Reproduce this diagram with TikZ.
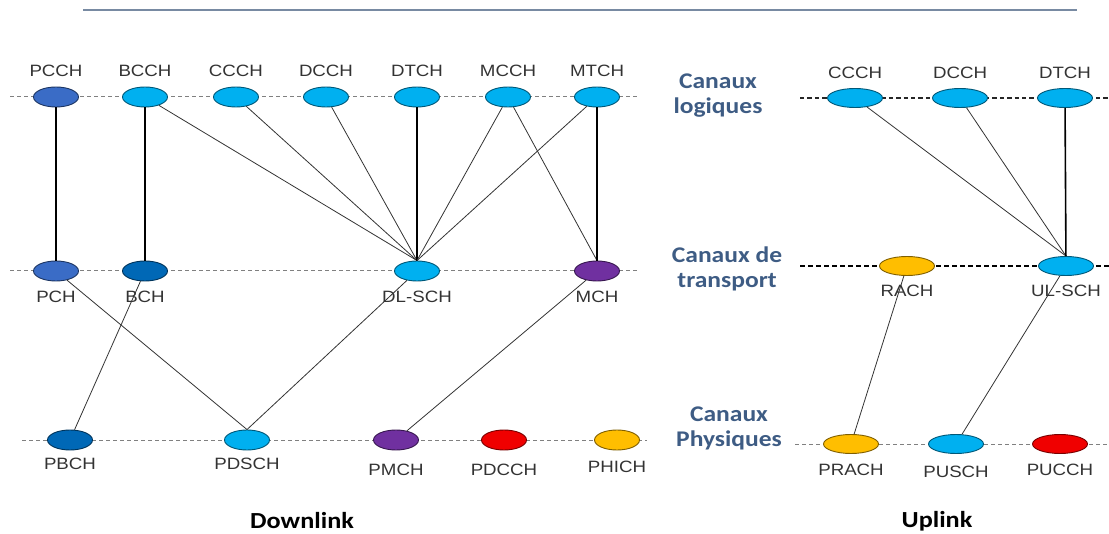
\documentclass[tikz,border=0pt]{standalone}
\usepackage{fontspec}
\setmainfont{Liberation Sans}
\newfontfamily\chanfont[FakeStretch=1.14]{Liberation Sans}
\newfontfamily\headfont[FakeStretch=1.14]{Carlito}
\usetikzlibrary{shapes.geometric}

\definecolor{skyblue}{RGB}{0,176,240}
\definecolor{midblue}{RGB}{58,108,198}
\definecolor{deepblue}{RGB}{0,104,182}
\definecolor{violet}{RGB}{112,48,160}
\definecolor{chred}{RGB}{240,0,0}
\definecolor{amber}{RGB}{255,190,0}
\definecolor{headblue}{RGB}{62,92,132}
\definecolor{rulegray}{RGB}{120,138,162}

\tikzset{
  chan/.style={ellipse, inner sep=0pt, minimum width=22.5pt, minimum height=10pt,
               fill=#1, draw=#1!50!black, line width=0.45pt},
  upchan/.style={chan=#1, minimum width=27.5pt, minimum height=9.5pt},
  lbl/.style={font=\chanfont\fontsize{8.2}{9}\selectfont, text=black!80, inner sep=0pt},
  head/.style={font=\headfont\bfseries\fontsize{11.2}{12.5}\selectfont, text=headblue,
               align=center, inner sep=0pt},
  sidehead/.style={font=\headfont\bfseries\fontsize{11.5}{13}\selectfont, text=black, inner sep=0pt},
  row/.style={dash pattern=on 2pt off 1.5pt, line width=0.5pt, draw=black!50},
  darkrow/.style={dash pattern=on 2.2pt off 1.5pt, line width=0.55pt, draw=black!85},
  heavyrow/.style={dash pattern=on 2.5pt off 1.5pt, line width=0.8pt, draw=black},
  link/.style={line width=0.4pt, draw=black!80},
  tie/.style={line width=0.8pt, draw=black},
  heavytie/.style={line width=1.2pt, draw=black},
}

\begin{document}
\begin{tikzpicture}[x=0.5pt, y=-0.5pt]
\useasboundingbox (0,0) rectangle (1109,534);

% top rule
\coordinate (ruleL) at (83,10);
\coordinate (ruleR) at (1077,10);
\draw[rulegray, line width=1pt] (ruleL) -- (ruleR);

% dashed rows, downlink
\coordinate (dlL1) at (10,97);   \coordinate (dlR1) at (640,97);
\coordinate (dlL2) at (10,271);  \coordinate (dlR2) at (640,271);
\coordinate (dlL3) at (22,440);  \coordinate (dlR3) at (647,440);
\draw[row] (dlL1) -- (dlR1);
\draw[row] (dlL2) -- (dlR2);
\draw[row] (dlL3) -- (dlR3);

% dashed rows, uplink
\coordinate (ulL1) at (800,98);  \coordinate (ulR1) at (1109,98);
\coordinate (ulL2) at (800,266); \coordinate (ulR2) at (1109,266);
\coordinate (ulL3) at (795,444); \coordinate (ulR3) at (1109,444);
\draw[darkrow] (ulL1) -- (ulR1);
\draw[heavyrow] (ulL2) -- (ulR2);
\draw[row] (ulL3) -- (ulR3);

% downlink logical channels
\node[chan=midblue] (pcch) at (56,97) {};
\node[chan=skyblue] (bcch) at (145,97) {};
\node[chan=skyblue] (ccch) at (236,97) {};
\node[chan=skyblue] (dcch) at (326,97) {};
\node[chan=skyblue] (dtch) at (417,97) {};
\node[chan=skyblue] (mcch) at (508,97) {};
\node[chan=skyblue] (mtch) at (597,97) {};
\node[lbl] (pcchL) at (56,71) {PCCH};
\node[lbl] (bcchL) at (145,71) {BCCH};
\node[lbl] (ccchL) at (236,71) {CCCH};
\node[lbl] (dcchL) at (326,71) {DCCH};
\node[lbl] (dtchL) at (417,71) {DTCH};
\node[lbl] (mcchL) at (508,71) {MCCH};
\node[lbl] (mtchL) at (597,71) {MTCH};

% downlink transport channels
\node[chan=midblue] (pch) at (56,271) {};
\node[chan=deepblue] (bch) at (145,271) {};
\node[chan=skyblue] (dlsch) at (417,271) {};
\node[chan=violet] (mch) at (597,271) {};
\node[lbl] (pchL) at (56,297) {PCH};
\node[lbl] (bchL) at (145,297) {BCH};
\node[lbl] (dlschL) at (417,297) {DL-SCH};
\node[lbl] (mchL) at (597,297) {MCH};

% downlink physical channels
\node[chan=deepblue] (pbch) at (70,440) {};
\node[chan=skyblue] (pdsch) at (247,440) {};
\node[chan=violet] (pmch) at (396,440) {};
\node[chan=chred] (pdcch) at (504,440) {};
\node[chan=amber] (phich) at (617,440) {};
\node[lbl] (pbchL) at (70,464) {PBCH};
\node[lbl] (pdschL) at (247,464) {PDSCH};
\node[lbl] (pmchL) at (396,470) {PMCH};
\node[lbl] (pdcchL) at (504,470) {PDCCH};
\node[lbl] (phichL) at (617,467) {PHICH};

% uplink channels
\node[upchan=skyblue] (uccch) at (855,98) {};
\node[upchan=skyblue] (udcch) at (960,98) {};
\node[upchan=skyblue] (udtch) at (1065,98) {};
\node[lbl] (uccchL) at (855,73) {CCCH};
\node[lbl] (udcchL) at (960,73) {DCCH};
\node[lbl] (udtchL) at (1065,73) {DTCH};
\node[upchan=amber] (rach) at (907,266) {};
\node[upchan=skyblue] (ulsch) at (1066,266) {};
\node[lbl] (rachL) at (907,291) {RACH};
\node[lbl] (ulschL) at (1066,291) {UL-SCH};
\node[upchan=amber] (prach) at (851,444) {};
\node[upchan=skyblue] (pusch) at (956,444) {};
\node[upchan=chred] (pucch) at (1060,444) {};
\node[lbl] (prachL) at (851,470) {PRACH};
\node[lbl] (puschL) at (956,472) {PUSCH};
\node[lbl] (pucchL) at (1060,470) {PUCCH};

% row headings
\node[head] (hlog) at (718,96) {Canaux\\logiques};
\node[head] (htr) at (727,269) {Canaux de\\transport};
\node[head] (hphy) at (729,428) {Canaux\\Physiques};
\node[sidehead] (hdl) at (302,521) {Downlink};
\node[sidehead] (hul) at (937,521) {Uplink};

% downlink mapping: logical to transport
\draw[tie] (pcch) -- (pch);
\draw[heavytie] (bcch) -- (bch);
\draw[link] (bcch) -- (dlsch.north);
\draw[link] (ccch) -- (dlsch.north);
\draw[link] (dcch) -- (dlsch.north);
\draw[tie] (dtch) -- (dlsch);
\draw[link] (mcch) -- (dlsch.north);
\draw[link] (mtch) -- (dlsch.north);
\draw[link] (mcch) -- (mch.north);
\draw[tie] (mtch) -- (mch);

% downlink mapping: transport to physical
\draw[link] (pch) -- (pdsch.north);
\draw[link] (bch) -- (pbch);
\draw[link] (dlsch) -- (pdsch.north);
\draw[link] (mch) -- (pmch);

% uplink mapping
\draw[link] (uccch) -- (ulsch.north);
\draw[link] (udcch) -- (ulsch.north);
\draw[tie] (udtch) -- (ulsch);
\draw[link] (rach) -- (prach);
\draw[link] (ulsch) -- (pusch);
\end{tikzpicture}
\end{document}
